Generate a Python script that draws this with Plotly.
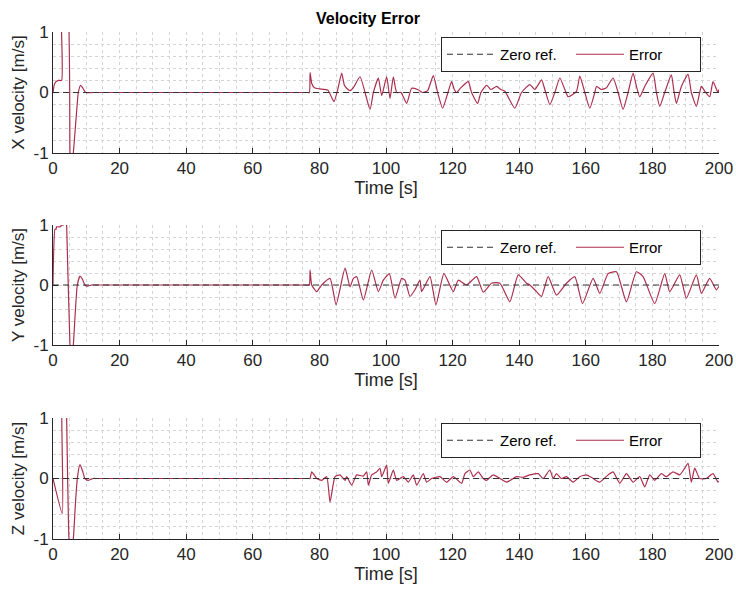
import plotly.graph_objects as go

# ---------------- data ----------------
x_ticks = [0, 20, 40, 60, 80, 100, 120, 140, 160, 180, 200]
y_ticks = [-1, 0, 1]
y_tick_labels = ["-1", "0", "1"]
y_titles = ["X velocity [m/s]", "Y velocity [m/s]", "Z velocity [m/s]"]

ref_t = [0, 200]
ref_v = [0, 0]

t_x = [0, 0.5, 1.6, 2.6, 2.7, 4.1, 5.1, 5.4, 6.1, 6.9, 7.6, 8.3, 9.0, 9.8, 12, 13, 40, 76.5,
       77.0, 77.2, 77.7, 78.5, 80.0, 82.5, 84.4, 85.5, 86.7, 87.5, 88.2, 89.2,
       90.2, 92.2, 95.2, 96.2, 97.7, 98.7, 100.2, 101.2, 102.2, 103.2, 104.5,
       106.2, 107.7, 109.5, 111.0, 112.5, 114.2, 115.5, 117.0, 118.5, 119.7,
       120.5, 121.2, 122.5, 124.7, 125.7, 127.5, 128.5, 130.2, 131.5, 133.2,
       134.5, 135.7, 138.7, 140.7, 143.2, 144.7, 146.7, 147.7, 149.2, 150.7,
       152.2, 153.7, 154.7, 157.2, 158.2, 159.7, 161.2, 162.7, 163.2, 164.7,
       166.2, 168.2, 169.7, 171.2, 172.7, 174.2, 175.2, 176.2, 177.7, 180.2,
       181.2, 182.2, 183.7, 185.7, 186.4, 187.2, 188.7, 190.7, 191.7, 193.2,
       194.2, 194.7, 196.0, 197.2, 198.2, 199.7, 200]
err_x = [0, 0.15, 0.2, 0.2, 1.6, 1.6, -1.0, -1.3, -1.0, -0.45, 0.0, 0.12, 0.07, 0.0, 0, 0, 0, 0,
         0.0, 0.33, 0.15, 0.08, 0.06, 0.04, -0.15, 0.05, 0.32, 0.12, 0.07, 0.03,
         0.08, 0.26, -0.28, 0.0, 0.24, -0.05, 0.26, -0.1, 0.26, 0.0, 0.0,
         -0.18, 0.07, 0.05, 0.0, 0.03, 0.28, 0.0, -0.26, -0.02, 0.18,
         0.05, 0.0, 0.08, 0.18, 0.0, -0.18, 0.0, 0.12, 0.05, 0.1,
         0.05, 0.02, -0.26, 0.0, 0.13, 0.05, 0.21, 0.05, -0.2, 0.0,
         0.24, 0.05, -0.07, 0.02, 0.27, 0.0, -0.26, 0.0, 0.1, 0.05,
         0.08, 0.24, 0.0, -0.28, 0.0, 0.32, 0.1, -0.07, 0.1, 0.32,
         0.0, -0.23, 0.0, 0.29, 0.05, -0.18, 0.1, 0.3, 0.0, -0.23,
         0.0, 0.1, 0.0, -0.07, 0.18, 0.0, 0.05]

t_y = [0, 0.6, 0.9, 1.1, 2.2, 2.6, 3.1, 3.2, 3.9, 4.1, 5.1, 5.4, 6.1, 6.7, 7.3, 8.1,
       8.8, 9.6, 10.3, 11.5, 12.5, 40, 76.5, 77.0, 77.2, 77.7, 79.2, 80.7, 83.2, 85.0, 87.7,
       89.2, 90.2, 91.2, 93.2, 95.7, 97.7, 99.2, 101.0, 102.7, 104.7, 105.7,
       107.2, 108.7, 110.2, 110.7, 113.2, 115.0, 117.4, 120.2, 121.7, 124.2,
       127.2, 129.2, 131.7, 134.2, 137.2, 139.7, 142.2, 143.2, 145.2, 146.7,
       148.7, 151.2, 154.2, 156.7, 159.0, 162.2, 164.2, 166.7, 169.2, 172.2,
       175.2, 177.2, 180.7, 183.7, 185.2, 188.2, 190.2, 193.2, 194.7, 197.2,
       199.2, 200]
err_y = [0, 0.93, 0.93, 0.97, 0.97, 1.0, 1.0, 1.8, 1.8, 1.0, -1.0, -1.3, -1.0, -0.45, 0.0, 0.15,
         0.1, 0.0, -0.02, 0.0, 0.0, 0.0, 0.0, 0.0, 0.25, 0.0, -0.11, 0.0, 0.11, -0.33, 0.28,
         -0.03, 0.11, 0.14, -0.25, 0.25, -0.11, 0.08, 0.19, -0.22, 0.11, 0.08,
         -0.19, -0.08, 0.08, -0.11, 0.14, -0.33, 0.19, -0.11, 0.08, 0.0,
         0.14, -0.12, 0.03, 0.03, -0.28, 0.17, 0.03, 0.0, -0.11, -0.19,
         0.14, -0.17, 0.03, 0.14, -0.31, 0.11, -0.14, 0.19, 0.22, -0.28,
         0.22, 0.14, -0.31, 0.19, -0.11, 0.17, -0.22, 0.17, -0.14, 0.11,
         -0.08, -0.02]

t_z = [0, 2.8, 2.9, 3.9, 4.1, 4.8, 5.3, 6.1, 6.7, 7.3, 8.1, 8.9, 9.6, 10.6, 12.1, 13.1, 40, 76.5,
       77.0, 77.2, 77.7, 79.2, 80.7, 82.2, 83.2, 84.7, 86.2, 87.7, 88.2, 89.7,
       91.2, 93.2, 94.2, 94.7, 95.7, 97.2, 98.2, 98.7, 100.2, 100.7, 102.2,
       103.2, 105.2, 106.7, 108.2, 109.2, 111.2, 112.2, 113.7, 116.2, 118.2,
       120.2, 122.7, 123.7, 125.2, 126.2, 127.7, 129.2, 130.2, 132.2, 134.2,
       136.2, 139.2, 141.2, 143.2, 145.7, 147.2, 149.2, 150.2, 151.2, 152.7,
       154.2, 156.2, 158.2, 160.2, 162.2, 164.2, 166.7, 168.2, 170.2, 172.2,
       174.2, 176.2, 177.7, 179.2, 180.7, 182.7, 184.2, 186.2, 188.2, 189.7,
       190.7, 191.7, 192.7, 194.2, 196.2, 198.2, 199.7, 200]
err_z = [0, -0.58, 1.8, 1.8, 1.0, -1.0, -1.3, -1.0, -0.45, 0.0, 0.23, 0.12, 0.0, -0.03, 0.0, 0.0, 0.0, 0.0,
         0.0, 0.0, 0.11, 0.0, -0.03, 0.03, -0.39, 0.03, 0.06, -0.03, 0.03, -0.11,
         0.06, 0.04, 0.11, -0.11, 0.06, 0.11, 0.17, 0.03, 0.22, -0.08, 0.14,
         -0.03, 0.03, -0.06, 0.06, -0.11, 0.08, -0.06, 0.0, 0.03, -0.06,
         0.03, -0.08, 0.08, 0.14, 0.03, 0.11, 0.0, -0.03, 0.06, 0.0,
         -0.06, 0.03, 0.02, 0.06, 0.08, 0.0, 0.14, 0.0, 0.08, 0.0,
         0.03, -0.06, 0.03, 0.06, 0.0, -0.06, 0.06, 0.11, -0.08, 0.08,
         -0.06, 0.03, -0.14, 0.06, -0.03, 0.08, 0.03, 0.11, 0.06, 0.17,
         0.25, -0.06, 0.17, 0.0, 0.0, 0.08, -0.06, -0.05]

series_t = [t_x, t_y, t_z]
series_v = [err_x, err_y, err_z]

# ---------------- styling / layout ----------------
W, H = 736, 592
ML, MR = 53, 17
FONT = "Liberation Sans, Arial, sans-serif"
AX = "#262626"
GRID = "#d4d4d4"
ERR_COLOR = "#AC2E4E"
REF_COLOR = "#333333"

# plot area pixel rows [top, bottom]
rows_px = [(32, 153), (225, 345), (418, 539)]

fig = go.Figure()
for i in range(3):
    xa = "x" if i == 0 else f"x{i+1}"
    ya = "y" if i == 0 else f"y{i+1}"
    lg = "legend" if i == 0 else f"legend{i+1}"
    fig.add_trace(go.Scatter(x=series_t[i], y=series_v[i], mode="lines",
                             name="Error",
                             line=dict(color=ERR_COLOR, width=1.2, shape="spline", smoothing=0.5),
                             xaxis=xa, yaxis=ya, legend=lg, legendrank=2))
    fig.add_trace(go.Scatter(x=ref_t, y=ref_v, mode="lines", name="Zero ref.",
                             line=dict(color=REF_COLOR, width=1.1, dash="6px,4px"),
                             xaxis=xa, yaxis=ya, legend=lg, legendrank=1))

layout = dict(
    width=W, height=H,
    margin=dict(l=ML, r=MR, t=0, b=0),
    paper_bgcolor="white", plot_bgcolor="white",
    font=dict(family=FONT, color=AX, size=15),
    showlegend=True,
    title=dict(text="<b>Velocity Error</b>", x=(368 - ML) / (W - ML - MR), xref="paper",
               xanchor="center", y=1 - 18 / H, yanchor="middle",
               font=dict(family=FONT, size=16, color="black")),
)

for i, (top, bot) in enumerate(rows_px):
    sfx = "" if i == 0 else str(i + 1)
    dom = [1 - bot / H, 1 - top / H]
    layout["xaxis" + sfx] = dict(
        domain=[0, 1], range=[0, 200], anchor="y" + sfx,
        tickvals=x_ticks, ticks="inside", ticklen=5, tickcolor=AX, tickwidth=1,
        showline=True, linecolor=AX, linewidth=1, mirror=False,
        showgrid=True, gridcolor=GRID, griddash="dot", gridwidth=1,
        minor=dict(dtick=5, showgrid=True, gridcolor=GRID, griddash="dot", ticks=""),
        zeroline=False, tickfont=dict(size=17, color=AX),
        title=dict(text="Time [s]", font=dict(size=18, color=AX), standoff=2),
        automargin=False,
    )
    layout["yaxis" + sfx] = dict(
        domain=dom, range=[-1, 1], anchor="x" + sfx,
        tickvals=y_ticks, ticktext=y_tick_labels,
        ticks="inside", ticklen=5, tickcolor=AX, tickwidth=1,
        showline=True, linecolor=AX, linewidth=1, mirror=False,
        showgrid=True, gridcolor=GRID, griddash="dot", gridwidth=1,
        minor=dict(dtick=0.2, showgrid=True, gridcolor=GRID, griddash="dot", ticks=""),
        zeroline=False, tickfont=dict(size=17, color=AX),
        title=dict(text=y_titles[i], font=dict(size=17, color=AX), standoff=4),
        automargin=False,
    )
    lname = "legend" if i == 0 else f"legend{i+1}"
    layout[lname] = dict(
        x=(701 - ML) / (W - ML - MR), xanchor="right",
        y=1 - (top + 5) / H, yanchor="top",
        orientation="h", bgcolor="white", bordercolor=AX, borderwidth=1,
        font=dict(family=FONT, size=15, color="black"),
        itemwidth=48, entrywidth=66, entrywidthmode="pixels",
        traceorder="normal",
    )

fig.update_layout(**layout)
fig.write_html("out.html")
